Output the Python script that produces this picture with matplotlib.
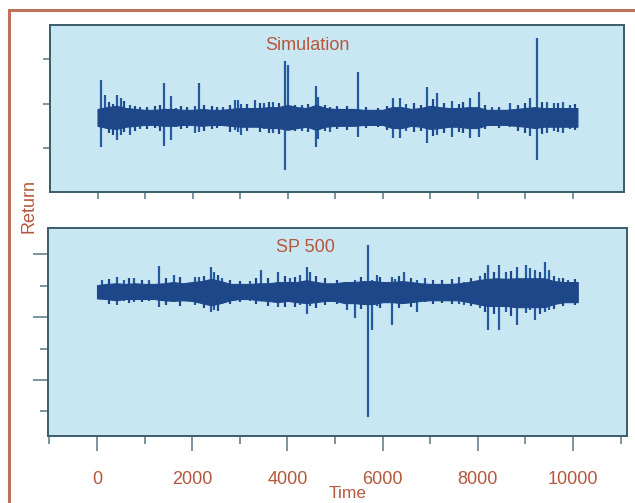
import matplotlib.pyplot as plt
from matplotlib.lines import Line2D

# time grid for the dense core of each series (read every 200 steps)
band_time = list(range(0, 10000, 200)) + [10100]

# Simulation: envelope of the core band, returns in %
sim_hi = [1.8, 2.2, 2.5, 2.0, 1.8, 1.6, 1.6, 1.8, 1.8, 1.6, 1.6, 1.8, 1.6, 1.6, 1.8, 2.0, 2.0,
          2.0, 2.2, 2.2, 2.7, 2.2, 2.0, 2.7, 2.0, 1.8, 1.8, 1.8, 1.6, 1.6, 1.6, 2.2, 2.2, 1.8,
          2.0, 2.5, 2.2, 2.0, 2.0, 2.2, 2.2, 1.6, 1.6, 1.6, 1.8, 2.0, 2.2, 2.0, 2.0, 2.0, 2.0]
sim_lo = [-2.0, -2.5, -2.7, -2.2, -2.0, -1.8, -1.8, -2.0, -2.0, -1.8, -1.8, -2.0, -1.8, -1.8,
          -2.0, -2.2, -2.2, -2.2, -2.5, -2.5, -2.9, -2.5, -2.2, -2.9, -2.2, -2.0, -2.0, -2.0,
          -1.8, -1.8, -1.8, -2.5, -2.5, -2.0, -2.2, -2.7, -2.5, -2.2, -2.2, -2.5, -2.5, -1.8,
          -1.8, -1.8, -2.0, -2.2, -2.5, -2.2, -2.2, -2.2, -2.2]

# Simulation: individual large moves
sim_spike_time = [70, 150, 400, 490, 690, 900, 1400, 1550, 1650, 2050, 2135, 2650, 2890, 2950,
                  3010, 3310, 3500, 3700, 3947, 4000, 4300, 4600, 4650, 4900, 5480, 6220, 6370,
                  6500, 6940, 7150, 7460, 7840, 8025, 8300, 8690, 9105, 9253, 9450, 9600, 9800,
                  9950]
sim_spike_hi = [8.3, 4.9, 4.9, 4.3, 2.7, 2.2, 7.6, 4.7, 2.0, 2.5, 7.6, 2.2, 3.8, 3.8, 2.9, 3.8,
                3.1, 3.4, 12.6, 11.7, 2.7, 7.0, 4.5, 2.2, 10.1, 4.3, 4.3, 2.9, 6.7, 5.4, 3.6, 4.3,
                5.6, 2.2, 3.1, 4.3, 17.8, 3.4, 3.1, 3.4, 2.7]
sim_spike_lo = [-6.7, -1.8, -5.2, -4.0, -4.0, -2.7, -6.5, -5.2, -2.2, -3.6, -3.4, -1.8, -2.9,
                -3.4, -4.0, -1.8, -2.7, -3.6, -11.9, -2.2, -3.1, -6.7, -4.9, -3.4, -4.5, -4.7,
                -4.7, -3.1, -5.8, -4.0, -4.5, -4.7, -4.5, -2.0, -2.2, -4.3, -9.7, -3.6, -3.1,
                -3.6, -2.7]

# Simulation: smaller moves poking out of the band
sim_fuzz_time = [250, 330, 560, 780, 1050, 1200, 1320, 1750, 1880, 2250, 2400, 2520, 2780, 3150,
                 3420, 3600, 3820, 4150, 4420, 4780, 5050, 5250, 5650, 5900, 6100, 6650, 6800,
                 7050, 7300, 7600, 7700, 8150, 8450, 8850, 9000, 9350, 9700, 10050]
sim_fuzz_hi = [3.4, 2.9, 3.6, 2.5, 2.2, 2.5, 2.7, 2.5, 2.2, 2.7, 2.5, 2.2, 2.7, 2.9, 3.1, 3.4,
               3.1, 2.7, 2.9, 2.7, 2.5, 2.5, 2.2, 2.0, 2.5, 3.1, 2.7, 4.0, 3.1, 2.9, 3.4, 2.7,
               2.2, 2.7, 3.1, 3.4, 3.1, 2.9]
sim_fuzz_lo = [-3.6, -4.0, -3.4, -3.1, -2.7, -2.5, -3.1, -2.7, -2.5, -3.1, -2.7, -2.5, -3.4,
               -3.1, -3.4, -3.6, -3.8, -3.1, -3.4, -3.1, -2.7, -2.9, -2.5, -2.2, -2.9, -3.4,
               -3.1, -4.3, -3.6, -3.4, -3.6, -2.7, -2.5, -3.1, -3.6, -3.8, -3.4, -2.9]

# SP 500: envelope of the core band, returns in %
sp_hi = [1.1, 1.3, 1.4, 1.3, 1.4, 1.3, 1.3, 1.4, 1.6, 1.4, 1.6, 1.75, 2.1, 1.75, 1.3, 1.3, 1.3,
         1.4, 1.4, 1.6, 1.6, 1.6, 1.9, 1.6, 1.4, 1.4, 1.6, 1.6, 1.75, 1.75, 1.6, 1.6, 1.75, 1.6,
         1.4, 1.3, 1.3, 1.3, 1.4, 1.6, 1.9, 2.1, 2.2, 2.1, 2.2, 2.2, 2.2, 2.2, 1.75, 1.6, 1.6]
sp_lo = [-1.0, -1.1, -1.3, -1.1, -1.1, -1.1, -1.1, -1.3, -1.4, -1.3, -1.4, -1.75, -2.1, -1.75,
         -1.3, -1.1, -1.1, -1.3, -1.4, -1.6, -1.4, -1.6, -1.75, -1.6, -1.4, -1.4, -1.75, -1.75,
         -1.9, -1.9, -1.6, -1.6, -1.75, -1.6, -1.4, -1.3, -1.3, -1.3, -1.3, -1.6, -1.9, -2.2,
         -2.2, -2.2, -2.4, -2.4, -2.4, -2.4, -1.9, -1.6, -1.6]

# SP 500: individual large moves
sp_spike_time = [95, 417, 560, 783, 1098, 1295, 1610, 1860, 2060, 2150, 2396, 2450, 2620, 3204,
                 3442, 3807, 4050, 4263, 4404, 4480, 5246, 5421, 5701, 5772, 5877, 6193, 6263,
                 6455, 6726, 6900, 7600, 7700, 8050, 8221, 8446, 8600, 8832, 9007, 9100, 9204,
                 9414, 9500, 9700, 9900]
sp_spike_hi = [1.9, 2.4, 1.9, 2.2, 1.9, 4.1, 2.7, 1.4, 2.4, 2.4, 4.0, 3.2, 2.2, 1.75, 3.5, 3.2,
               2.2, 2.7, 4.0, 3.2, 1.6, 1.9, 7.5, 1.9, 2.7, 2.4, 2.1, 3.2, 1.9, 2.2, 2.4, 1.6,
               2.5, 4.3, 4.3, 3.2, 4.0, 4.3, 3.8, 3.5, 4.8, 3.5, 2.2, 1.9]
sp_spike_lo = [-1.1, -2.1, -1.4, -1.6, -1.4, -2.4, -1.6, -1.3, -2.1, -1.6, -3.2, -2.9, -1.9,
               -1.4, -1.4, -2.4, -1.6, -2.1, -3.5, -2.2, -2.9, -4.1, -19.9, -6.1, -2.2, -5.3,
               -1.75, -1.9, -3.2, -1.6, -1.9, -2.1, -2.5, -6.1, -6.1, -3.2, -5.3, -3.3, -2.9,
               -4.5, -3.2, -2.9, -1.9, -1.75]

# SP 500: smaller moves poking out of the band
sp_fuzz_time = [250, 680, 950, 1450, 1750, 2250, 2550, 2800, 3000, 3350, 3600, 3950, 4150, 4600,
                4800, 5050, 5550, 5950, 6350, 6600, 7050, 7250, 7450, 7850, 8150, 8350, 8700,
                9300, 9600, 9800, 10050]
sp_fuzz_hi = [2.1, 2.2, 1.9, 2.2, 2.4, 2.5, 2.7, 1.9, 1.75, 2.2, 2.2, 2.5, 2.4, 2.5, 2.2, 1.9,
              2.4, 2.4, 2.5, 2.2, 1.9, 1.9, 2.1, 2.2, 3.0, 3.2, 3.3, 3.2, 2.5, 2.2, 2.1]
sp_fuzz_lo = [-1.9, -1.75, -1.6, -2.1, -2.2, -2.5, -3.0, -1.9, -1.6, -1.9, -2.2, -2.4, -2.4,
              -2.5, -2.1, -1.9, -2.7, -2.5, -2.5, -2.4, -1.9, -1.75, -1.9, -2.2, -3.2, -3.5,
              -3.8, -3.5, -2.7, -2.2, -2.1]

brown = '#b5573c'
face = '#c9e7f3'
navy = '#1d4789'
spike_col = '#24599f'
spine_col = '#3a5d6b'
tick_col = '#5a7785'

plt.rcParams['font.family'] = ['Liberation Sans', 'DejaVu Sans']

fig = plt.figure(figsize=(6.35, 5.03), dpi=100)
fig.patch.set_facecolor('white')

ax1 = fig.add_axes([50 / 635, 1 - 192 / 503, 574 / 635, 167 / 503])
ax2 = fig.add_axes([48 / 635, 1 - 436 / 503, 579 / 635, 208 / 503])

panels = [
    (ax1, sim_hi, sim_lo, sim_spike_time, sim_spike_hi, sim_spike_lo,
     sim_fuzz_time, sim_fuzz_hi, sim_fuzz_lo),
    (ax2, sp_hi, sp_lo, sp_spike_time, sp_spike_hi, sp_spike_lo,
     sp_fuzz_time, sp_fuzz_hi, sp_fuzz_lo),
]
for ax, hi, lo, st, sh, sl, ft, fh, fl in panels:
    ax.set_facecolor(face)
    ax.vlines(st, sl, sh, color=spike_col, lw=1.6, zorder=2)
    ax.vlines(ft, fl, fh, color=navy, lw=1.6, zorder=2)
    ax.fill_between(band_time, lo, hi, color=navy, lw=0.8, edgecolor=navy, zorder=3)
    for s in ax.spines.values():
        s.set_color(spine_col)
        s.set_linewidth(1.4)

# top panel
ax1.set_xlim(-1000, 11080)
ax1.set_ylim(-16.9, 20.7)
ax1.set_xticks(range(0, 10001, 1000))
ax1.set_yticks([13, 3, -7])
ax1.tick_params(length=5, width=1.1, color=tick_col, labelbottom=False, labelleft=False)
ax1.text(0.449, 0.88, 'Simulation', transform=ax1.transAxes, ha='center', va='center',
         color=brown, fontsize=13)

# bottom panel
ax2.set_xlim(-1029, 11134)
ax2.set_ylim(-22.9, 10.2)
ax2.set_xticks(range(0, 10001, 2000))
ax2.set_xticks(range(-1000, 11001, 2000), minor=True)
ax2.set_yticks([6, -4, -14])
ax2.set_yticks([1, -9, -19], minor=True)
ax2.tick_params(which='major', length=11, width=1.1, color=tick_col)
ax2.tick_params(which='minor', length=5.5, width=1.1, color=tick_col)
ax2.tick_params(axis='y', labelleft=False)
ax2.tick_params(axis='x', which='major', pad=14, labelsize=13, labelcolor=brown)
ax2.text(0.444, 0.904, 'SP 500', transform=ax2.transAxes, ha='center', va='center',
         color=brown, fontsize=13)

fig.text(29 / 635, 1 - 206 / 503, 'Return', rotation=90, ha='center', va='center',
         color=brown, fontsize=13)
fig.text(348 / 635, 2 / 503, 'Time', ha='center', va='bottom', color=brown, fontsize=12.5)

# outer frame (only top and left edges are visible)
fig.add_artist(Line2D([9 / 635, 9 / 635], [0, 1 - 10 / 503], color='#c0715a', lw=2.2,
                      transform=fig.transFigure))
fig.add_artist(Line2D([9 / 635, 1], [1 - 10 / 503, 1 - 10 / 503], color='#c0715a', lw=2.2,
                      transform=fig.transFigure))

fig.savefig('out.png', dpi=100)
